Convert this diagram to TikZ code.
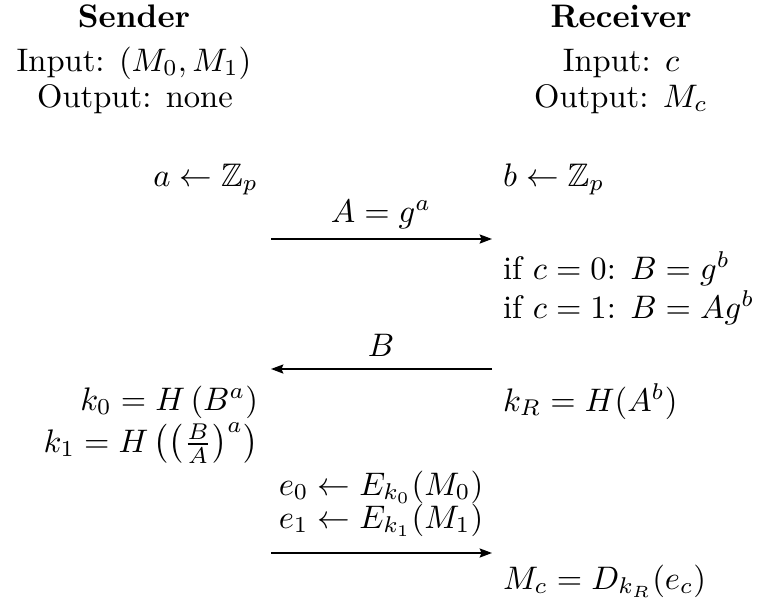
\documentclass[tikz,border=0pt]{standalone}
\usepackage{amsmath,amssymb}
\usetikzlibrary{arrows.meta}
\begin{document}
\begin{tikzpicture}[x=0.30675pt,y=-0.30675pt,
  txt/.style={inner sep=0pt,outer sep=0pt},
  lft/.style={txt,anchor=base east},
  rgt/.style={txt,anchor=base west},
  ctr/.style={txt,anchor=base},
  msg/.style={line width=0.5pt,-{Stealth[length=3.8pt,width=2.8pt,inset=0.6pt]}}]
\useasboundingbox[fill=white] (0,0) rectangle (760,603);
% headers
\node[ctr] (sender) at (134,27) {\textbf{Sender}};
\node[ctr] (sin) at (134,71) {Input: $(M_0,M_1)$};
\node[ctr] (sout) at (135,107) {Output: none};
\node[ctr] (receiver) at (621,27) {\textbf{Receiver}};
\node[ctr] (rin) at (621,71) {Input: $c$};
\node[ctr] (rout) at (621,107) {Output: $M_c$};
% step 1
\node[lft] (sa) at (258,186) {$a \leftarrow \mathbb{Z}_p$};
\node[rgt] (rb) at (503,186) {$b \leftarrow \mathbb{Z}_p$};
\node[ctr] (mA) at (381,222) {$A = g^a$};
\coordinate (A1) at (271,239);
\coordinate (A2) at (492,239);
\draw[msg] (A1) -- (A2);
% step 2
\node[rgt] (rc0) at (503,279) {if $c = 0$: $B = g^b$};
\node[rgt] (rc1) at (503,318) {if $c = 1$: $B = Ag^b$};
\node[ctr] (mB) at (381,356) {$B$};
\coordinate (B1) at (492,369);
\coordinate (B2) at (271,369);
\draw[msg] (B1) -- (B2);
% step 3
\node[lft] (k0) at (258,410) {$k_0 = H\left(B^a\right)$};
\node[lft] (k1) at (258,452) {$k_1 = H\,\bigl(\bigl(\frac{B}{A}\bigr)^a\bigr)$};
\node[rgt] (kR) at (503,411) {$k_R = H(A^b)$};
\node[ctr] (e0) at (381,495) {$e_0 \leftarrow E_{k_0}(M_0)$};
\node[ctr] (e1) at (381,528) {$e_1 \leftarrow E_{k_1}(M_1)$};
\coordinate (C1) at (271,553);
\coordinate (C2) at (492,553);
\draw[msg] (C1) -- (C2);
\node[rgt] (Mc) at (503,589) {$M_c = D_{k_R}(e_c)$};
\end{tikzpicture}
\end{document}
